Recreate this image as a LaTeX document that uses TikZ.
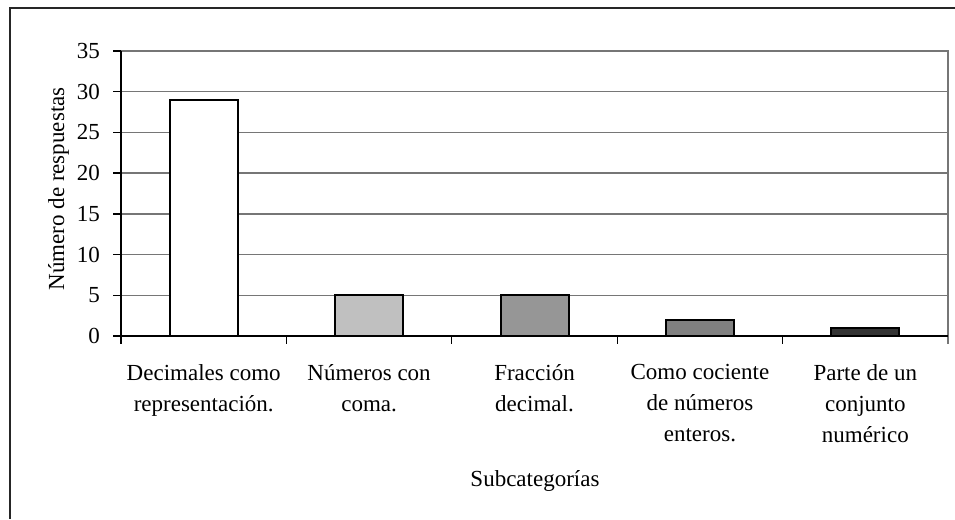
\documentclass[tikz,border=0pt]{standalone}
\usepackage{fontspec}
\setmainfont{Liberation Serif}
\usepackage{xcolor}
\usetikzlibrary{positioning,calc}
\definecolor{gridGray}{RGB}{118,118,118}
\definecolor{barLight}{RGB}{192,192,192}
\definecolor{barMid}{RGB}{150,150,150}
\definecolor{barDark}{RGB}{128,128,128}
\definecolor{barBlack}{RGB}{51,51,51}
\tikzset{%
  grid line/.style={draw=gridGray, line width=1.3pt},
  axis line/.style={draw=black, line width=1.3pt},
  bar/.style={draw=black, line width=2pt},
  label font/.style={font=\fontsize{23}{31}\selectfont, inner sep=0pt},
  cat label/.style={label font, align=center, anchor=north}
}

\begin{document}
\begin{tikzpicture}[x=1pt,y=-1pt]
\useasboundingbox (0,0) rectangle (955,519);
\draw[line width=2pt, black!85] (955,8.5) -- (10,8.5) -- (10,519);

\coordinate (oNode) at (121,336);  \coordinate (topNode) at (121,51);
\coordinate (rNode) at (948,336);  \coordinate (trNode) at (948,51);

% grid
\draw[grid line] (121,295.3) -- (948,295.3);
\draw[grid line] (121,254.6) -- (948,254.6);
\draw[grid line] (121,213.9) -- (948,213.9);
\draw[grid line] (121,173.1) -- (948,173.1);
\draw[grid line] (121,132.4) -- (948,132.4);
\draw[grid line] (121,91.7) -- (948,91.7);
\draw[grid line] (topNode) -- (trNode) -- ($(rNode)+(0,8)$);

% bars
\draw[bar, fill=white]    (169.7,336) rectangle (237.7,99.9);
\draw[bar, fill=barLight] (335.1,336) rectangle (403.1,295.3);
\draw[bar, fill=barMid]   (500.5,336) rectangle (568.5,295.3);
\draw[bar, fill=barDark]  (665.9,336) rectangle (733.9,319.7);
\draw[bar, fill=barBlack] (831.3,336) rectangle (899.3,327.9);

% axes
\draw[axis line] (topNode) -- ($(oNode)+(0,8)$);
\draw[axis line] (oNode) -- (rNode);
\draw[axis line] (286.4,336) -- (286.4,344);
\draw[axis line] (451.8,336) -- (451.8,344);
\draw[axis line] (617.2,336) -- (617.2,344);
\draw[axis line] (782.6,336) -- (782.6,344);
\draw[axis line] (113,336) -- (121,336);
\draw[axis line] (113,295.3) -- (121,295.3);
\draw[axis line] (113,254.6) -- (121,254.6);
\draw[axis line] (113,213.9) -- (121,213.9);
\draw[axis line] (113,173.1) -- (121,173.1);
\draw[axis line] (113,132.4) -- (121,132.4);
\draw[axis line] (113,91.7) -- (121,91.7);
\draw[axis line] (113,51) -- (121,51);

\node[label font, anchor=east] (y0)  at (100,336)   {0};
\node[label font, anchor=east] (y5)  at (100,295.3) {5};
\node[label font, anchor=east] (y10) at (100,254.6) {10};
\node[label font, anchor=east] (y15) at (100,213.9) {15};
\node[label font, anchor=east] (y20) at (100,173.1) {20};
\node[label font, anchor=east] (y25) at (100,132.4) {25};
\node[label font, anchor=east] (y30) at (100,91.7)  {30};
\node[label font, anchor=east] (y35) at (100,51)    {35};

\node[cat label] (decLabel)  at (203.7,364) {Decimales como\\representación.};
\node[cat label] (comaLabel) at (369.1,364) {Números con\\coma.};
\node[cat label] (fracLabel) at (534.5,364) {Fracción\\decimal.};
\node[cat label] (cocLabel)  at (699.9,364) {Como cociente\\de números\\enteros.};
\node[cat label] (partLabel) at (865.3,364) {Parte de un\\conjunto\\numérico};

\node[label font, anchor=base] (xTitle) at (535,486.7) {Subcategorías};
\node[label font, anchor=base, rotate=90] (yTitle) at (64,189) {Número de respuestas};
\end{tikzpicture}
\end{document}
